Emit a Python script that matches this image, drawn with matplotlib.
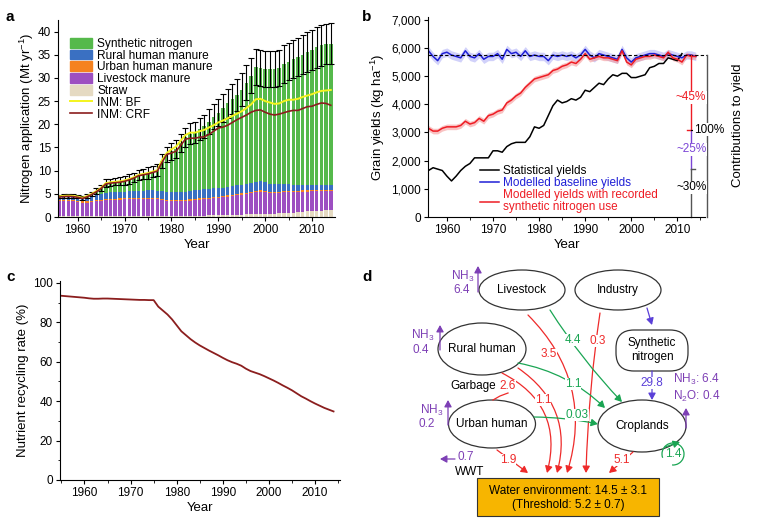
import numpy as np
import matplotlib
matplotlib.use("Agg")
import matplotlib.pyplot as plt
from matplotlib.patches import Ellipse, FancyArrowPatch, FancyBboxPatch, Rectangle, Patch, Arc
from matplotlib.lines import Line2D
from matplotlib.ticker import MultipleLocator, FuncFormatter

plt.rcParams['font.family'] = ['Liberation Sans', 'DejaVu Sans']
plt.rcParams['mathtext.fontset'] = 'custom'
plt.rcParams['mathtext.rm'] = 'Liberation Sans'
plt.rcParams['mathtext.it'] = 'Liberation Sans'
plt.rcParams['font.size'] = 8.5

# ---- panel a data (Mt/yr), stack tops ----
years_a = np.arange(1956, 2015)
straw_top = [0.2] * 14 + [0.25] * 15 + [0.3, 0.3, 0.3, 0.35, 0.35, 0.4, 0.4, 0.45, 0.45, 0.5,
                                        0.5, 0.55, 0.6, 0.65, 0.7, 0.7, 0.7, 0.75, 0.8, 0.85,
                                        0.9, 0.95, 1.0, 1.1, 1.2, 1.3, 1.35, 1.4, 1.45, 1.5]
livestock_top = [3.35, 3.4, 3.4, 3.4, 3.3, 3.1, 3.1, 3.2, 3.35, 3.5, 3.6, 3.65, 3.7, 3.75, 3.8,
                 3.8, 3.85, 3.9, 3.9, 3.9, 3.85, 3.8, 3.65, 3.5, 3.4, 3.35, 3.4, 3.45, 3.55, 3.65,
                 3.75, 3.85, 3.95, 4.05, 4.15, 4.25, 4.4, 4.55, 4.75, 4.8, 4.95, 5.1, 5.35, 5.45,
                 5.3, 5.1, 5.15, 5.2, 5.3, 5.3, 5.35, 5.4, 5.45, 5.5, 5.55, 5.6, 5.6, 5.6, 5.55]
urban = [0.25] * 35 + [0.3] * 24
rural_top = [4.35, 4.45, 4.45, 4.45, 4.3, 4.0, 4.1, 4.4, 4.7, 5.0, 5.2, 5.3, 5.4, 5.45, 5.5,
             5.55, 5.6, 5.65, 5.7, 5.75, 5.75, 5.7, 5.55, 5.45, 5.4, 5.35, 5.4, 5.5, 5.6, 5.75,
             5.85, 5.95, 6.05, 6.15, 6.25, 6.35, 6.5, 6.65, 6.9, 6.95, 7.1, 7.25, 7.55, 7.7,
             7.5, 7.2, 7.15, 7.1, 7.1, 7.05, 7.0, 6.95, 6.95, 6.9, 6.9, 6.9, 6.9, 6.85, 6.8]
total = [4.45, 4.55, 4.6, 4.55, 4.4, 4.15, 4.5, 5.0, 5.6, 6.3, 7.3, 7.5, 7.6, 7.7, 7.9,
         8.2, 8.6, 9.1, 9.3, 9.5, 9.8, 10.1, 12.0, 13.5, 14.2, 14.7, 16.0, 17.2, 18.0, 18.2,
         19.0, 19.6, 20.6, 21.6, 22.5, 23.5, 24.5, 25.5, 26.3, 27.5, 29.0, 30.5, 32.3, 32.2,
         32.0, 32.0, 31.9, 32.1, 33.0, 33.5, 34.0, 34.5, 35.0, 35.6, 36.1, 36.6, 37.0, 37.3, 37.4]
total_err = [0.4, 0.4, 0.4, 0.4, 0.4, 0.4, 0.4, 0.5, 0.6, 0.7, 0.8, 0.8, 0.8, 0.9, 0.9,
             1.0, 1.0, 1.1, 1.1, 1.2, 1.2, 1.3, 1.5, 1.7, 1.8, 1.9, 2.0, 2.1, 2.2, 2.3,
             2.4, 2.5, 2.6, 2.7, 2.9, 3.0, 3.1, 3.2, 3.4, 3.5, 3.7, 3.8, 3.9, 3.9,
             3.9, 3.9, 3.9, 3.9, 4.0, 4.0, 4.1, 4.1, 4.2, 4.3, 4.3, 4.4, 4.4, 4.4, 4.4]
inm_bf = [4.45, 4.55, 4.6, 4.55, 4.4, 4.15, 4.5, 5.0, 5.6, 6.3, 7.3, 7.5, 7.6, 7.7, 7.9,
          8.2, 8.6, 9.1, 9.3, 9.5, 9.8, 10.1, 12.3, 13.8, 14.6, 15.2, 16.5, 17.7, 18.2, 18.2,
          18.5, 18.8, 19.3, 19.8, 20.4, 20.8, 21.3, 21.8, 22.3, 22.8, 23.5, 24.3, 25.4, 25.5,
          25.0, 24.7, 24.4, 24.5, 25.0, 25.3, 25.3, 25.5, 25.9, 26.2, 26.5, 26.9, 27.2, 27.3, 27.4]
inm_crf = [4.3, 4.4, 4.45, 4.4, 4.25, 4.0, 4.35, 4.85, 5.45, 6.15, 7.1, 7.3, 7.4, 7.5, 7.7,
           8.0, 8.4, 8.9, 9.1, 9.3, 9.6, 9.9, 11.8, 13.5, 13.8, 14.2, 15.5, 16.8, 17.0, 17.0,
           17.2, 17.3, 17.8, 18.5, 19.2, 19.4, 19.8, 20.4, 21.0, 21.5, 22.0, 22.6, 23.0, 23.1,
           22.6, 22.2, 22.0, 22.2, 22.5, 22.8, 23.0, 23.0, 23.4, 23.8, 23.9, 24.3, 24.6, 24.5, 24.1]

# ---- panel b data (kg/ha) ----
years_b = np.arange(1956, 2015)
years_stat = np.arange(1956, 2012)
stat_yield = [1650, 1750, 1700, 1650, 1450, 1280, 1450, 1650, 1800, 1900, 2100, 2100, 2100, 2100,
              2350, 2350, 2300, 2500, 2600, 2650, 2650, 2650, 2850, 3200, 3150, 3250, 3600, 3950,
              4150, 4050, 4100, 4200, 4150, 4250, 4500, 4450, 4600, 4750, 4700, 4900, 5050, 5000,
              5100, 5100, 4950, 4950, 5000, 5050, 5300, 5350, 5450, 5450, 5650, 5600, 5550, 5800]
base_yield = [5900, 5700, 5550, 5800, 5850, 5750, 5700, 5650, 5900, 5700,
              5650, 5800, 5600, 5700, 5700, 5800, 5600, 5950, 5800, 5850,
              5700, 5900, 5700, 5750, 5700, 5700, 5550, 5750, 5700, 5750,
              5700, 5750, 5650, 5750, 5950, 5750, 5650, 5800, 5750, 5700,
              5650, 5600, 5950, 5650, 5500, 5650, 5700, 5750, 5800, 5800,
              5750, 5700, 5800, 5750, 5700, 5650, 5750, 5750, 5700]
synth_yield = [3150, 3050, 3050, 3150, 3200, 3200, 3200, 3250, 3400, 3300,
               3350, 3500, 3400, 3600, 3650, 3750, 3800, 4050, 4150, 4300,
               4400, 4600, 4750, 4900, 4950, 5000, 5050, 5200, 5250, 5350,
               5400, 5500, 5450, 5600, 5800, 5600, 5650, 5700, 5650, 5650,
               5600, 5550, 5900, 5500, 5400, 5600, 5650, 5700, 5700, 5750,
               5700, 5650, 5850, 5650, 5600, 5500, 5750, 5700, 5700]
base_band = 150
synth_band = 100
ref_yield = 5750
split_yields = [3100, 1700]

# ---- panel c data (%) ----
years_c = np.arange(1955, 2015)
recycling = [93.5, 93.3, 93.1, 92.9, 92.7, 92.5, 92.2, 92.0, 92.0, 92.1, 92.1, 92.0, 91.9, 91.8,
             91.7, 91.6, 91.5, 91.4, 91.4, 91.3, 91.3, 88.0, 86.0, 84.0, 81.5, 78.5, 75.5, 73.5,
             71.5, 69.8, 68.3, 67.0, 65.7, 64.5, 63.3, 62.0, 60.8, 59.8, 59.0, 58.0, 56.5, 55.3,
             54.5, 53.7, 52.7, 51.6, 50.5, 49.3, 48.0, 46.8, 45.5, 44.0, 42.5, 41.3, 40.0, 38.8,
             37.7, 36.6, 35.7, 34.8]

W, H = 766, 526
fig = plt.figure(figsize=(W / 100, H / 100), dpi=100)


def px_axes(l, t, r, b):
    return fig.add_axes([l / W, 1 - b / H, (r - l) / W, (b - t) / H])


def style(ax):
    for s in ['top', 'right']:
        ax.spines[s].set_visible(False)
    ax.tick_params(direction='out', length=3, width=0.8, labelsize=8.5, pad=2)
    ax.tick_params(which='minor', direction='out', length=1.8, width=0.6)
    ax.xaxis.set_major_locator(MultipleLocator(10))
    ax.xaxis.set_minor_locator(MultipleLocator(5))


# ===== panel a =====
ax = px_axes(58, 20, 335, 217)
straw_top = np.array(straw_top)
livestock_top = np.array(livestock_top)
urban_top = livestock_top + np.array(urban)
rural_top = np.array(rural_top)
total = np.array(total)
bw = 0.74
ax.bar(years_a, straw_top, bw, color='#e5dac2')
ax.bar(years_a, livestock_top - straw_top, bw, bottom=straw_top, color='#9d4fc1')
ax.bar(years_a, urban_top - livestock_top, bw, bottom=livestock_top, color='#f5821f')
ax.bar(years_a, rural_top - urban_top, bw, bottom=urban_top, color='#3a70c2')
ax.bar(years_a, total - rural_top, bw, bottom=rural_top, color='#55b94b')
ax.errorbar(years_a, total, yerr=total_err, fmt='none', ecolor='black', elinewidth=0.8,
            capsize=2.2, capthick=0.8)
ax.plot(years_a, inm_bf, color='#f4f41e', lw=1.4)
ax.plot(years_a, inm_crf, color='#8b1e1e', lw=1.2)
ax.set_xlim(1955.8, 2014.9)
ax.set_ylim(0, 42.5)
ax.yaxis.set_major_locator(MultipleLocator(5))
style(ax)
ax.set_xlabel('Year', fontsize=9.5, labelpad=2)
ax.set_ylabel('Nitrogen application (Mt yr$^{-1}$)', fontsize=9.5, labelpad=1)
handles = [Patch(color='#55b94b'), Patch(color='#3a70c2'), Patch(color='#f5821f'),
           Patch(color='#9d4fc1'), Patch(color='#e5dac2'),
           Line2D([], [], color='#f4f41e', lw=1.4), Line2D([], [], color='#8b1e1e', lw=1.2)]
labels = ['Synthetic nitrogen', 'Rural human manure', 'Urban human manure', 'Livestock manure',
          'Straw', 'INM: BF', 'INM: CRF']
ax.legend(handles, labels, loc='upper left', bbox_to_anchor=(0.045, 0.91), frameon=False,
          fontsize=8.6, handlelength=1.8, handleheight=0.9, labelspacing=-0.02,
          handletextpad=0.45, borderaxespad=0, borderpad=0)
fig.text(6 / W, 1 - 17 / H, 'a', fontsize=11, fontweight='bold', va='center')

# ===== panel b =====
bx = px_axes(428, 17, 705, 217)
bx.fill_between(years_b, np.array(base_yield) - base_band, np.array(base_yield) + base_band,
                color='#9a9af5', alpha=0.45, lw=0)
bx.fill_between(years_b, np.array(synth_yield) - synth_band, np.array(synth_yield) + synth_band,
                color='#f59a9a', alpha=0.6, lw=0)
bx.plot(years_stat, stat_yield, color='black', lw=1.1, label='Statistical yields')
bx.plot(years_b, base_yield, color='#1f1fd6', lw=1.1, label='Modelled baseline yields')
bx.plot(years_b, synth_yield, color='#ee1c24', lw=1.1,
        label='Modelled yields with recorded\nsynthetic nitrogen use')
bx.set_xlim(1955.9, 2016)
bx.set_ylim(0, 7100)
bx.yaxis.set_major_locator(MultipleLocator(1000))
bx.yaxis.set_major_formatter(FuncFormatter(lambda v, p: f'{int(v):,}'))
style(bx)
bx.set_xlabel('Year', fontsize=9.5, labelpad=2)
bx.set_ylabel('Grain yields (kg ha$^{-1}$)', fontsize=9.5, labelpad=3)
leg = bx.legend(loc='lower left', bbox_to_anchor=(0.17, -0.005), frameon=False, fontsize=8.5,
                handlelength=1.6, labelspacing=0.0, handletextpad=0.4, borderaxespad=0)
for t, c in zip(leg.get_texts(), ['black', '#1f1fd6', '#ee1c24']):
    t.set_color(c)
    t.set_linespacing(1.0)
# contribution brackets
xl, xr = 2013.0, 2016.5
bx.plot([1955.9, xr], [ref_yield, ref_yield], color='black', lw=0.8, ls=(0, (3, 2)), clip_on=False)
bx.plot([xl, xl], [ref_yield, split_yields[0]], color='#ee1c24', lw=1.0, clip_on=False)
bx.plot([xl, xl], [split_yields[0], split_yields[1]], color='#7b45d6', lw=1.0, clip_on=False)
bx.plot([xl, xl], [split_yields[1], 0], color='#555555', lw=1.0, clip_on=False)
bx.plot([xl - 0.9, xl], [split_yields[0]] * 2, color='#ee1c24', lw=1.0, clip_on=False)
bx.plot([xl, xl + 0.9], [split_yields[1]] * 2, color='#555555', lw=1.0, clip_on=False)
bx.plot([xr, xr], [ref_yield, 0], color='#555555', lw=1.0, clip_on=False)
bx.plot([xl, xl + 1.2], [split_yields[0]] * 2, color='black', lw=0.8, clip_on=False)
wb = dict(facecolor='white', edgecolor='none', pad=0.5)
bx.text(xl, 4250, '~45%', color='#ee1c24', ha='center', va='center', fontsize=8.5, bbox=wb,
        clip_on=False)
bx.text(xl, 2400, '~25%', color='#7b45d6', ha='center', va='center', fontsize=8.5, bbox=wb,
        clip_on=False)
bx.text(xl, 1050, '~30%', color='black', ha='center', va='center', fontsize=8.5, bbox=wb,
        clip_on=False)
bx.text(xr + 0.4, split_yields[0], '100%', color='black', ha='center', va='center', fontsize=8.5,
        bbox=wb, clip_on=False)
fig.text(738 / W, 1 - 125 / H, 'Contributions to yield', rotation=90, ha='center', va='center',
         fontsize=9.5)
fig.text(362 / W, 1 - 17 / H, 'b', fontsize=11, fontweight='bold', va='center')

# ===== panel c =====
cx = px_axes(60, 281, 340, 480)
cx.plot(years_c, recycling, color='#8b1e1e', lw=1.3)
cx.set_xlim(1954.7, 2015.4)
cx.set_ylim(0, 101)
cx.yaxis.set_major_locator(MultipleLocator(20))
cx.yaxis.set_minor_locator(MultipleLocator(10))
style(cx)
cx.set_xlabel('Year', fontsize=9.5, labelpad=2)
cx.set_ylabel('Nutrient recycling rate (%)', fontsize=9.5, labelpad=3)
fig.text(6 / W, 1 - 277 / H, 'c', fontsize=11, fontweight='bold', va='center')

# ===== panel d (flow diagram, pixel coordinates) =====
dx = px_axes(380, 260, 766, 526)
dx.set_xlim(380, 766)
dx.set_ylim(526, 260)
dx.axis('off')
fig.text(362 / W, 1 - 277 / H, 'd', fontsize=11, fontweight='bold', va='center')

RED, GREEN, PURPLE, VIOLET = '#ee2a2a', '#1aa553', '#7d3fb5', '#5a3fd8'
fs = 8.5
nodes = {'Livestock': (522, 290, 86, 40), 'Industry': (618, 290, 86, 40),
         'Rural human': (482, 349, 88, 52), 'Urban human': (492, 424, 87, 48),
         'Croplands': (642, 426, 88, 52)}
for name, (x0, y0, w0, h0) in nodes.items():
    dx.add_patch(Ellipse((x0, y0), w0, h0, facecolor='white', edgecolor='#333333', lw=0.9))
    dx.text(x0, y0, name, ha='center', va='center', fontsize=fs)
dx.add_patch(FancyBboxPatch((616, 330), 72, 41, boxstyle='round,pad=0,rounding_size=18',
                            facecolor='white', edgecolor='#333333', lw=0.9))
dx.text(652, 350, 'Synthetic\nnitrogen', ha='center', va='center', fontsize=fs, linespacing=1.2)
dx.add_patch(Rectangle((477, 478), 182, 38, facecolor='#f7b500', edgecolor='#333333', lw=0.8))
dx.text(568, 491, 'Water environment: 14.5 ± 3.1', ha='center', va='center', fontsize=fs)
dx.text(568, 505, '(Threshold: 5.2 ± 0.7)', ha='center', va='center', fontsize=fs)


def arrow(p0, p1, color, rad=0.0):
    dx.add_patch(FancyArrowPatch(p0, p1, connectionstyle=f'arc3,rad={rad}',
                                 arrowstyle='-|>,head_length=4,head_width=2.2', color=color,
                                 lw=0.9, shrinkA=0, shrinkB=0))


def label(x, y, s, color):
    dx.text(x, y, s, ha='center', va='center', fontsize=fs, color=color,
            bbox=dict(facecolor='white', edgecolor='none', pad=0.2))


# red flows to water
arrow((528, 315), (567, 473), RED, -0.3)
arrow((600, 313), (586, 473), RED, 0.03)
arrow((518, 368), (557, 473), RED, -0.35)
arrow((502, 373), (547, 473), RED, -0.4)
arrow((497, 450), (528, 473), RED, 0.0)
arrow((633, 452), (609, 473), RED, 0.0)
dx.plot([493, 500, 508], [400, 396, 393], color=RED, lw=0.9)
label(549, 354, '3.5', RED)
label(598, 341, '0.3', RED)
label(543, 400, '1.1', RED)
label(508, 386, '2.6', RED)
label(508, 460, '1.9', RED)
label(622, 460, '5.1', RED)
dx.text(473, 386, 'Garbage', ha='center', va='center', fontsize=fs)
dx.text(470, 472, 'WWT', ha='center', va='center', fontsize=fs)

# green flows to croplands
arrow((550, 310), (622, 402), GREEN, 0.05)
arrow((518, 363), (605, 408), GREEN, -0.15)
arrow((534, 417), (598, 424), GREEN, -0.05)
label(573, 340, '4.4', GREEN)
label(573, 384, '1.1', GREEN)
label(577, 415, '0.03', GREEN)
dx.add_patch(Arc((673, 454), 22, 22, theta1=-200, theta2=95, color=GREEN, lw=0.9))
arrow((665, 447), (680, 442), GREEN, 0.0)
dx.text(673, 454, '1.4', ha='center', va='center', fontsize=fs, color=GREEN)

# purple flows
arrow((647, 308), (652, 325), VIOLET, 0.0)
arrow((652, 371), (652, 400), VIOLET, 0.0)
label(652, 383, '29.8', VIOLET)
arrow((478, 292), (478, 266), PURPLE)
arrow((440, 350), (440, 325), PURPLE)
arrow((448, 425), (448, 400), PURPLE)
arrow((686, 428), (686, 408), PURPLE)
arrow((455, 459), (440, 459), PURPLE)
for (x0, y0, s) in [(463, 276, 'NH$_3$'), (462, 290, '6.4'), (423, 335, 'NH$_3$'),
                    (421, 350, '0.4'), (432, 410, 'NH$_3$'), (427, 424, '0.2'),
                    (466, 457, '0.7')]:
    dx.text(x0, y0, s, ha='center', va='center', fontsize=fs, color=PURPLE)
dx.text(673, 379, 'NH$_3$: 6.4', ha='left', va='center', fontsize=fs, color=PURPLE)
dx.text(673, 396, 'N$_2$O: 0.4', ha='left', va='center', fontsize=fs, color=PURPLE)

fig.savefig('out.png', dpi=100)
